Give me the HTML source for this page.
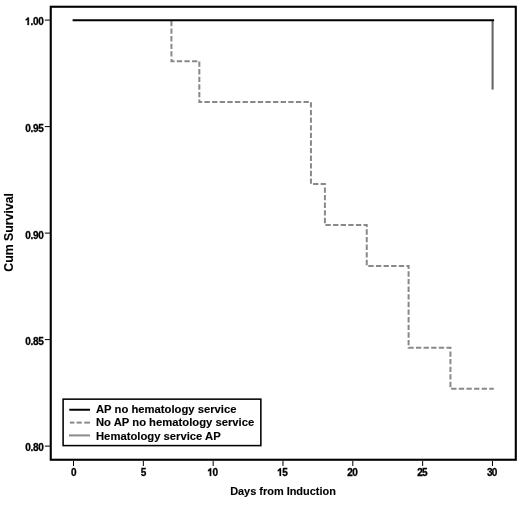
<!DOCTYPE html>
<html><head><meta charset="utf-8"><title>Cum Survival</title><style>
html,body{margin:0;padding:0;background:#fff;}
svg{display:block;will-change:transform;}
text{font-family:"Liberation Sans",sans-serif;font-weight:bold;fill:#000;stroke:#000;stroke-width:0.12px;}
.t{font-size:10px;stroke-width:0.3px;}
.l{font-size:11.25px;}
.a{font-size:10.95px;}
.c{font-size:12.3px;}
.h{fill:none;stroke:none;}
</style></head><body>
<svg width="520" height="509" viewBox="0 0 520 509">
<rect width="520" height="509" fill="#fff"/>
<rect x="50.75" y="6.75" width="465.05" height="453.0" fill="none" stroke="#000" stroke-width="2.1"/>
<line x1="44.8" x2="50" y1="20.10" y2="20.10" stroke="#000" stroke-width="1"/>
<text x="43.60" y="25.00" text-anchor="end" class="t" letter-spacing="-0.25"><tspan class="h">1</tspan>.00</text>
<line x1="44.8" x2="50" y1="126.60" y2="126.60" stroke="#000" stroke-width="1"/>
<text x="43.60" y="132.35" text-anchor="end" class="t" letter-spacing="-0.25">0.95</text>
<line x1="44.8" x2="50" y1="233.10" y2="233.10" stroke="#000" stroke-width="1"/>
<text x="43.60" y="238.80" text-anchor="end" class="t" letter-spacing="-0.25">0.90</text>
<line x1="44.8" x2="50" y1="339.60" y2="339.60" stroke="#000" stroke-width="1"/>
<text x="43.60" y="345.25" text-anchor="end" class="t" letter-spacing="-0.25">0.85</text>
<line x1="44.8" x2="50" y1="446.10" y2="446.10" stroke="#000" stroke-width="1"/>
<text x="43.60" y="450.90" text-anchor="end" class="t" letter-spacing="-0.25">0.80</text>
<line x1="73.50" x2="73.50" y1="461" y2="466" stroke="#000" stroke-width="1"/>
<text x="73.62" y="475.9" text-anchor="middle" class="t" letter-spacing="-0.25">0</text>
<line x1="143.33" x2="143.33" y1="461" y2="466" stroke="#000" stroke-width="1"/>
<text x="143.45" y="475.9" text-anchor="middle" class="t" letter-spacing="-0.25">5</text>
<line x1="213.16" x2="213.16" y1="461" y2="466" stroke="#000" stroke-width="1"/>
<text x="212.51" y="475.9" text-anchor="middle" class="t" letter-spacing="-0.7"><tspan class="h">1</tspan>0</text>
<line x1="282.99" x2="282.99" y1="461" y2="466" stroke="#000" stroke-width="1"/>
<text x="282.34" y="475.9" text-anchor="middle" class="t" letter-spacing="-0.7"><tspan class="h">1</tspan>5</text>
<line x1="352.82" x2="352.82" y1="461" y2="466" stroke="#000" stroke-width="1"/>
<text x="352.17" y="475.9" text-anchor="middle" class="t" letter-spacing="-0.7">20</text>
<line x1="422.65" x2="422.65" y1="461" y2="466" stroke="#000" stroke-width="1"/>
<text x="422.00" y="475.9" text-anchor="middle" class="t" letter-spacing="-0.7">25</text>
<line x1="492.48" x2="492.48" y1="461" y2="466" stroke="#000" stroke-width="1"/>
<text x="491.83" y="475.9" text-anchor="middle" class="t" letter-spacing="-0.7">30</text>
<path transform="translate(24.79,25.00) scale(0.004883,-0.005371)" d="M841,0 L560,0 L560,1010 C450,930 330,880 190,850 L190,1090 C380,1150 520,1270 590,1409 L841,1409 Z" fill="#000" stroke="#000" stroke-width="61.4"/>
<path transform="translate(207.05,475.90) scale(0.004883,-0.005371)" d="M841,0 L560,0 L560,1010 C450,930 330,880 190,850 L190,1090 C380,1150 520,1270 590,1409 L841,1409 Z" fill="#000" stroke="#000" stroke-width="61.4"/>
<path transform="translate(276.88,475.90) scale(0.004883,-0.005371)" d="M841,0 L560,0 L560,1010 C450,930 330,880 190,850 L190,1090 C380,1150 520,1270 590,1409 L841,1409 Z" fill="#000" stroke="#000" stroke-width="61.4"/>
<path d="M171.45,20.20 L171.45,61.15 L199.35,61.15 L199.35,102.10 L310.95,102.10 L310.95,184.00 L324.90,184.00 L324.90,224.95 L366.75,224.95 L366.75,265.90 L408.60,265.90 L408.60,347.80 L450.45,347.80 L450.45,388.75 L493.80,388.75" fill="none" stroke="#898989" stroke-width="2" stroke-dasharray="5.35 2.27" stroke-dashoffset="7.03" stroke-linecap="butt"/>
<line x1="492.60" x2="492.60" y1="20.20" y2="89.6" stroke="#666" stroke-width="2.1"/>
<line x1="72.60" x2="494.10" y1="20.20" y2="20.20" stroke="#000" stroke-width="2"/>
<rect x="63.1" y="399.15" width="197.75" height="46.45" fill="#fff" stroke="#000" stroke-width="1.55"/>
<line x1="69.3" x2="90" y1="409.75" y2="409.75" stroke="#000" stroke-width="2"/>
<line x1="69.9" x2="74.4" y1="422.6" y2="422.6" stroke="#898989" stroke-width="2"/>
<line x1="76.6" x2="81.8" y1="422.6" y2="422.6" stroke="#898989" stroke-width="2"/>
<line x1="84.3" x2="89.9" y1="422.6" y2="422.6" stroke="#898989" stroke-width="2"/>
<line x1="69" x2="90" y1="435.4" y2="435.4" stroke="#8a8a8a" stroke-width="2"/>
<text x="96.0" y="412.7" class="l">AP no hematology service</text>
<text x="96.0" y="426.1" class="l">No AP no hematology service</text>
<text x="96.0" y="439.5" class="l">Hematology service AP</text>
<text x="283" y="495" text-anchor="middle" class="a">Days from Induction</text>
<text transform="translate(13,232.4) rotate(-90)" x="0" y="0" text-anchor="middle" class="c">Cum Survival</text>
</svg>
</body></html>
